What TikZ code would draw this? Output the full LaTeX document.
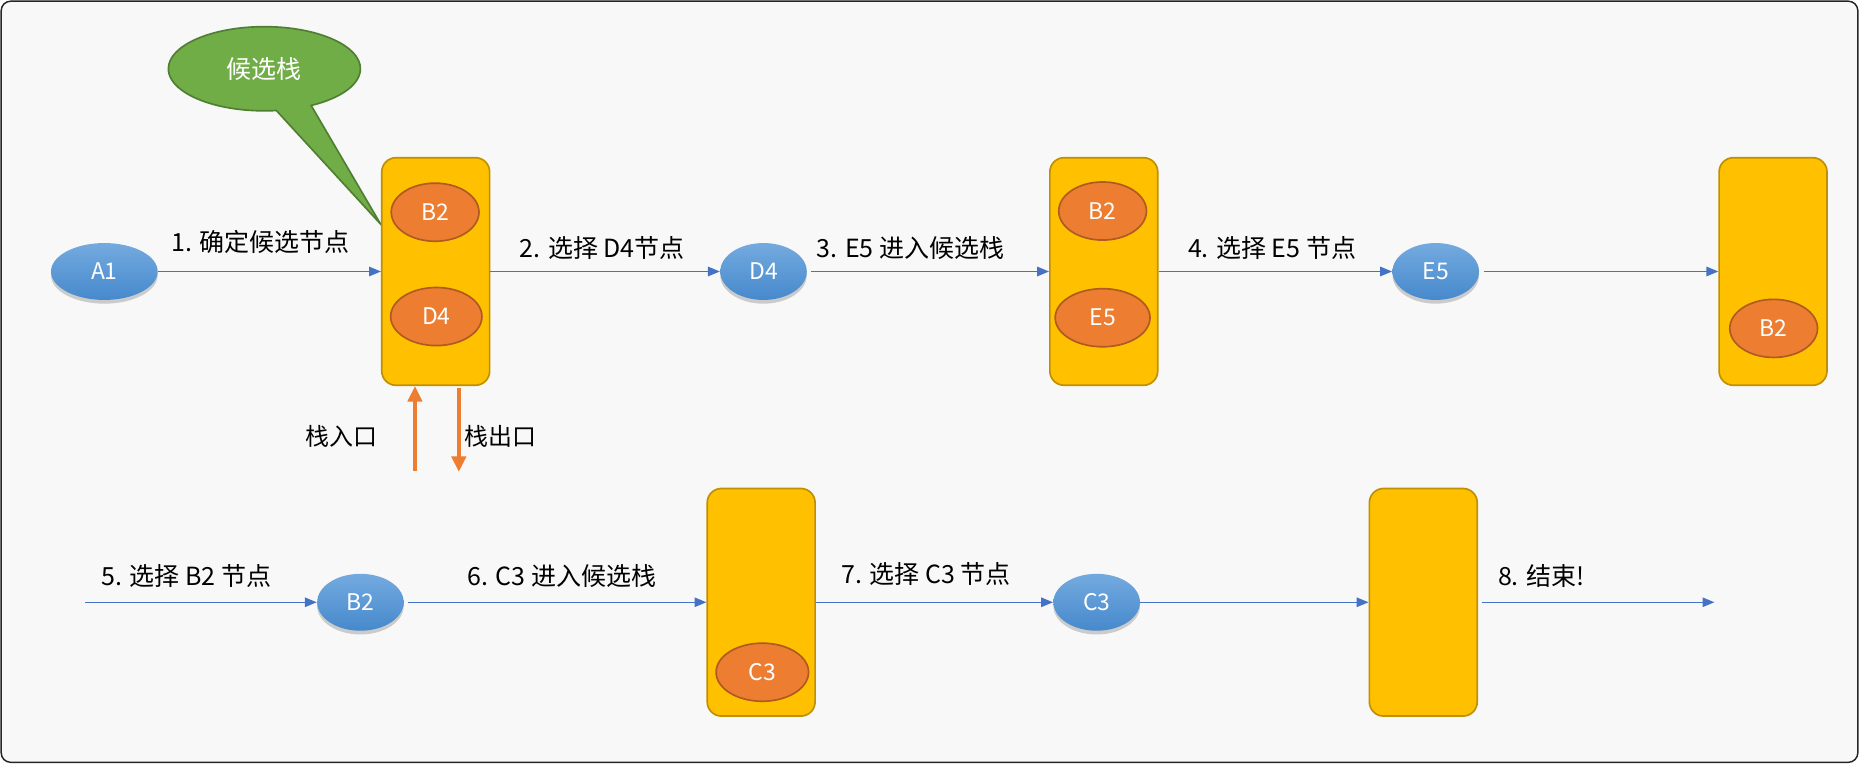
\documentclass[tikz,border=0pt]{standalone}
\usepackage{fontspec}
\setmainfont{Noto Sans CJK SC}
\usepackage{xcolor}
\usetikzlibrary{
    arrows.meta,
    shapes.geometric,
    shapes.callouts,
    shadows
}

\definecolor{stackfill}{HTML}{FFC000}
\definecolor{stackline}{HTML}{BF9000}
\definecolor{candfill}{HTML}{ED7D31}
\definecolor{candline}{HTML}{AE5A21}
\definecolor{pathtop}{HTML}{74AADF}
\definecolor{pathbot}{HTML}{4689CC}
\definecolor{linkblue}{HTML}{4472C4}
\definecolor{bubblefill}{HTML}{70AD47}
\definecolor{bubbleline}{HTML}{507E32}
\definecolor{canvas}{HTML}{F8F8F8}

\begin{document}
\begin{tikzpicture}[
    x=0.02cm,
    y=-0.02cm,
    stackbox/.style={
        rectangle,
        rounded corners=0.24cm,
        draw=stackline,
        line width=0.8pt,
        fill=stackfill,
        minimum width=1.82cm,
        minimum height=3.84cm
    },
    candidate/.style={
        ellipse,
        draw=candline,
        line width=0.8pt,
        fill=candfill,
        text=white,
        inner sep=0pt,
        minimum width=1.48cm,
        minimum height=0.98cm,
        font=\fontsize{11}{13}\selectfont
    },
    visited/.style={
        ellipse,
        top color=pathtop,
        bottom color=pathbot,
        text=white,
        inner sep=0pt,
        minimum width=1.46cm,
        minimum height=0.96cm,
        font=\fontsize{11}{13}\selectfont,
        drop shadow={shadow xshift=0pt, shadow yshift=-1.8pt,
                     opacity=0.18, fill=black}
    },
    steplabel/.style={
        inner sep=0pt,
        font=\fontsize{12}{14}\selectfont
    },
    arrow/.style={
        -{Triangle[length=0.2cm, width=0.16cm]},
        draw=linkblue,
        line width=0.6pt
    },
    stackarrow/.style={
        -{Triangle[length=0.26cm, width=0.24cm]},
        draw=candfill,
        line width=1.7pt
    }
]

% ============================================================
% CANVAS
% ============================================================

\useasboundingbox (0,0) rectangle (1568,644);
\draw[draw=black!85, line width=0.7pt, fill=canvas,
      rounded corners=0.16cm] (1,1) rectangle (1567,643);

% ============================================================
% CALLOUT
% ============================================================

\coordinate (tip) at (321,189);

\node[ellipse callout,
      callout absolute pointer={(tip)},
      callout pointer arc=22,
      fill=bubblefill,
      draw=bubbleline,
      line width=0.8pt,
      text=white,
      inner sep=0pt,
      minimum width=3.24cm,
      minimum height=1.42cm,
      font=\fontsize{12}{14}\selectfont] (bubble) at (223,58)
{候选栈};

% ============================================================
% FIRST ROW
% ============================================================

\node[visited, minimum width=1.8cm] (a1) at (88,229) {A1};

\node[stackbox] (stack1) at (367.5,229) {};
\node[candidate] (s1b2) at (367,179) {B2};
\node[candidate, minimum width=1.54cm] (s1d4) at (368,267) {D4};

\node[visited] (d4) at (644,229) {D4};

\node[stackbox] (stack2) at (931,229) {};
\node[candidate] (s2b2) at (930,178) {B2};
\node[candidate, minimum width=1.6cm] (s2e5) at (930,268) {E5};

\node[visited] (e5) at (1211,229) {E5};

\node[stackbox] (stack3) at (1495.5,229) {};
\node[candidate] (s3b2) at (1496,277) {B2};

% ============================================================
% STACK ENTRY / EXIT
% ============================================================

\coordinate (inlet) at (350,397);
\coordinate (outlet) at (387,398);

\node[steplabel, font=\fontsize{11.5}{14}\selectfont] (inlabel) at (288,368) {栈入口};
\node[steplabel, font=\fontsize{11.5}{14}\selectfont] (outlabel) at (422,368) {栈出口};

% ============================================================
% SECOND ROW
% ============================================================

\coordinate (start) at (72,508);

\node[visited] (b2) at (304,508) {B2};

\node[stackbox] (stack4) at (642,508) {};
\node[candidate, minimum width=1.56cm] (s4c3) at (643,567) {C3};

\node[visited] (c3) at (925,508) {C3};

\node[stackbox] (stack5) at (1200.5,508) {};

\coordinate (finish) at (1446,508);

% ============================================================
% STEP LABELS
% ============================================================

\node[steplabel] (l1) at (220,204) {1. 确定候选节点};
\node[steplabel] (l2) at (508,209) {2. 选择 D4节点};
\node[steplabel] (l3) at (768,209) {3. E5 进入候选栈};
\node[steplabel] (l4) at (1073,209) {4. 选择 E5 节点};
\node[steplabel] (l5) at (157,486) {5. 选择 B2 节点};
\node[steplabel] (l6) at (474,486) {6. C3 进入候选栈};
\node[steplabel] (l7) at (781,484) {7. 选择 C3 节点};
\node[steplabel] (l8) at (1300,486) {8. 结束!};

% ============================================================
% CONNECTIONS
% ============================================================

\draw[arrow] (a1) -- (stack1);
\draw[arrow] (stack1) -- (d4);
\draw[arrow, shorten <=2pt] (d4) -- (stack2);
\draw[arrow] (stack2) -- (e5);
\draw[arrow, shorten <=2pt] (e5) -- (stack3);

\draw[arrow] (start) -- (b2);
\draw[arrow, shorten <=2pt] (b2) -- (stack4);
\draw[arrow] (stack4) -- (c3);
\draw[arrow] (c3) -- (stack5);
\draw[arrow, shorten <=2pt] (stack5) -- (finish);

\draw[stackarrow] (inlet) -- (inlet |- stack1.south);
\draw[stackarrow] ([yshift=-1pt]outlet |- stack1.south) -- (outlet);

\end{tikzpicture}
\end{document}
